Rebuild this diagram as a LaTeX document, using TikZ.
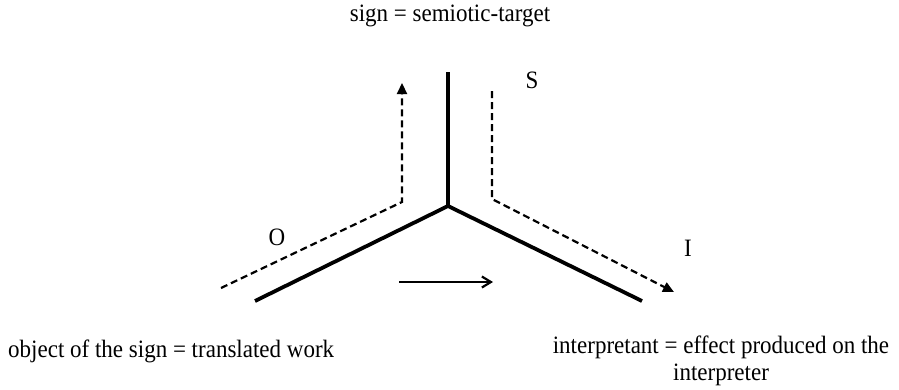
\documentclass[tikz,border=0pt]{standalone}
\usepackage{fontspec}
\setmainfont{Liberation Serif}[FakeStretch=0.92]
\usetikzlibrary{arrows.meta}
\begin{document}
\begin{tikzpicture}[x=1pt,y=-1pt,
  solidline/.style={line width=3.8pt},
  dashline/.style={line width=2.2pt,dash pattern=on 7pt off 4pt},
  tip/.style={-{Triangle[length=11pt,width=10pt]}},
  lbl/.style={font=\fontsize{25}{28}\selectfont,inner sep=0pt},
  txt/.style={font=\fontsize{25}{27}\selectfont,inner sep=0pt}]
\useasboundingbox (0,0) rectangle (899,389);
% solid Y
\coordinate (c) at (448,206);
\coordinate (top) at (448,72);
\coordinate (l) at (255,301);
\coordinate (r) at (642,301);
\draw[solidline] (top) -- (c);
\draw[solidline,line join=miter] (l) -- (c) -- (r);
% dashed left
\coordinate (ld0) at (221,288);
\coordinate (ld1) at (402,202);
\coordinate (ld2) at (402,83);
\draw[dashline,tip] (ld0) -- (ld1) -- (ld2);
% dashed right
\coordinate (rd0) at (492,91);
\coordinate (rd1) at (492,199);
\coordinate (rd2) at (674,292);
\draw[dashline,tip] (rd0) -- (rd1) -- (rd2);
% bottom arrow
\coordinate (a0) at (399,282);
\coordinate (a1) at (493,282);
\draw[line width=2.2pt,-{Straight Barb[length=9pt,width=11pt]}] (a0) -- (a1);
% letters
\node[lbl] (S) at (532,80) {S};
\node[lbl] (O) at (277,237) {O};
\node[lbl] (I) at (688,248) {I};
% texts
\node[txt] (top text) at (450,16) {sign = semiotic-target};
\node[txt,anchor=base west] (obj) at (8,357) {object of the sign = translated work};
\node[txt,align=center,anchor=north] (interp) at (721,336) {interpretant = effect produced on the\\ interpreter};
\end{tikzpicture}
\end{document}
